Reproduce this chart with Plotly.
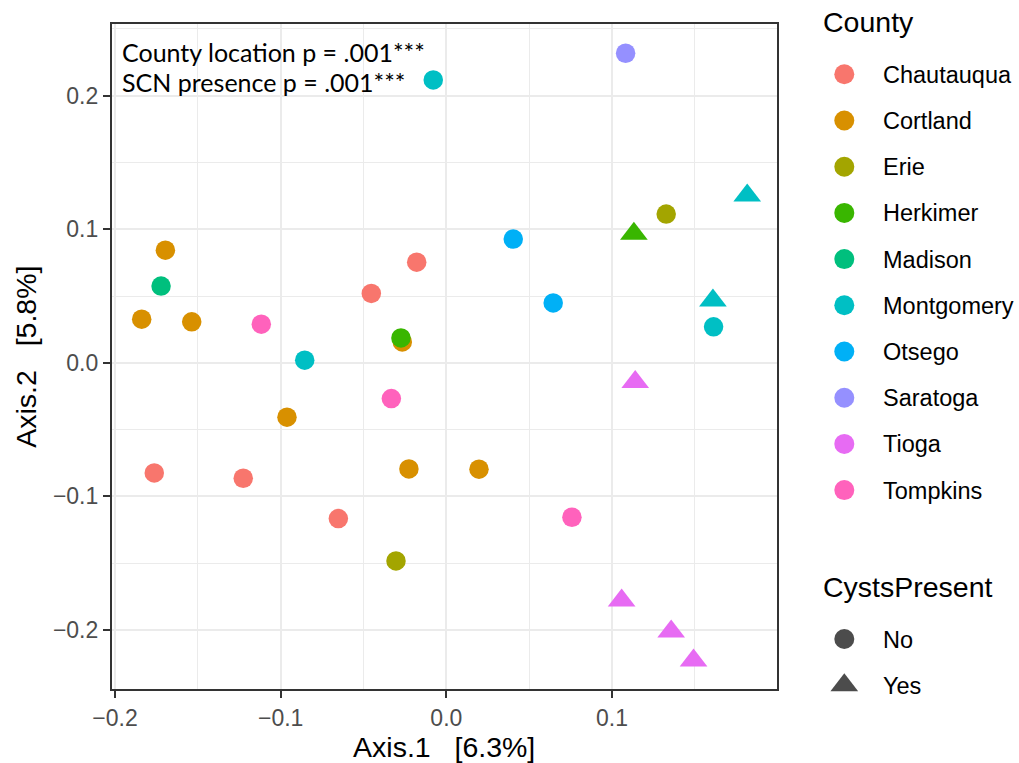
import plotly.graph_objects as go

W, H = 1019, 763

counties = ["Chautauqua", "Cortland", "Erie", "Herkimer", "Madison",
            "Montgomery", "Otsego", "Saratoga", "Tioga", "Tompkins"]
colors = ["#F8766D", "#D89000", "#A3A500", "#39B600", "#00BF7D",
          "#00BFC4", "#00B0F6", "#9590FF", "#E76BF3", "#FF62BC"]
cyst_levels = ["No", "Yes"]

# sample ordination scores (Axis.1, Axis.2), county, cysts present
axis1 = [-0.0453, -0.0179, -0.1763, -0.1226, -0.0652,
         -0.1696, -0.1839, -0.1537, -0.0266, -0.0962, -0.0226, 0.0197,
         0.1327, -0.0304,
         -0.0274, 0.1132,
         -0.1722,
         -0.0079, -0.0855, 0.1613, 0.1816, 0.1609,
         0.0404, 0.0645,
         0.1082,
         0.1140, 0.1058, 0.1357, 0.1492,
         -0.1117, -0.0332, 0.0758]
axis2 = [0.0520, 0.0754, -0.0824, -0.0864, -0.1166,
         0.0844, 0.0327, 0.0307, 0.0157, -0.0407, -0.0794, -0.0796,
         0.1114, -0.1483,
         0.0187, 0.0966,
         0.0575,
         0.2118, 0.0020, 0.0270, 0.1253, 0.0466,
         0.0927, 0.0449,
         0.2318,
         -0.0144, -0.1780, -0.2012, -0.2228,
         0.0290, -0.0267, -0.1156]
county = (["Chautauqua"] * 5 + ["Cortland"] * 7 + ["Erie"] * 2 +
          ["Herkimer"] * 2 + ["Madison"] + ["Montgomery"] * 5 +
          ["Otsego"] * 2 + ["Saratoga"] + ["Tioga"] * 4 + ["Tompkins"] * 3)
cysts = (["No"] * 5 + ["No"] * 7 + ["No"] * 2 +
         ["No", "Yes"] + ["No"] + ["No", "No", "No", "Yes", "Yes"] +
         ["No"] * 2 + ["No"] + ["Yes"] * 4 + ["No"] * 3)

x_ticks = [-0.2, -0.1, 0.0, 0.1]
x_ticklabels = ["\u22120.2", "\u22120.1", "0.0", "0.1"]
y_ticks = [-0.2, -0.1, 0.0, 0.1, 0.2]
y_ticklabels = ["\u22120.2", "\u22120.1", "0.0", "0.1", "0.2"]

symbol_of = {"No": "circle", "Yes": "triangle-up"}
size_of = {"No": 19.5, "Yes": 24}

# panel in pixels
PL, PR, PT, PB = 111.7, 776.7, 24.0, 689.3

def px_x(p):
    return p / W

def px_y(p):
    return 1 - p / H

fig = go.Figure()

for c, col in zip(counties, colors):
    for lev in cyst_levels:
        xs = [a for a, cc, cy in zip(axis1, county, cysts) if cc == c and cy == lev]
        ys = [b for b, cc, cy in zip(axis2, county, cysts) if cc == c and cy == lev]
        if not xs:
            continue
        fig.add_trace(go.Scatter(
            x=xs, y=ys, mode="markers", showlegend=False,
            marker=dict(color=col, size=size_of[lev], symbol=symbol_of[lev],
                        line=dict(width=0)),
            xaxis="x", yaxis="y", hoverinfo="skip"))

# legend drawn on a hidden pixel-space axis
LEG_X_MARK = 844.3
LEG_X_TEXT = 880.5
LEG_Y0 = 74.3
LEG_STEP = 46.2
leg_y = [LEG_Y0 + i * LEG_STEP for i in range(len(counties))]
fig.add_trace(go.Scatter(
    x=[LEG_X_MARK] * len(counties), y=leg_y, mode="markers", showlegend=False,
    marker=dict(color=colors, size=20, symbol="circle", line=dict(width=0)),
    xaxis="x2", yaxis="y2", hoverinfo="skip"))
CY0 = 639.0
cy_y = [CY0 + i * LEG_STEP for i in range(len(cyst_levels))]
fig.add_trace(go.Scatter(
    x=[LEG_X_MARK] * len(cyst_levels), y=cy_y, mode="markers", showlegend=False,
    marker=dict(color="#000000", size=[20, 24],
                symbol=[symbol_of[l] for l in cyst_levels], line=dict(width=0)),
    xaxis="x2", yaxis="y2", hoverinfo="skip"))

annotations = []
leg_font = dict(family="Liberation Sans, Arial, sans-serif", size=23.5, color="black")
title_font = dict(family="Liberation Sans, Arial, sans-serif", size=28.5, color="black")
annotations.append(dict(x=px_x(820.5), y=px_y(22.2), xref="paper", yref="paper",
                        text="County", showarrow=False, xanchor="left",
                        yanchor="middle", font=title_font))
for c, yy in zip(counties, leg_y):
    annotations.append(dict(x=px_x(LEG_X_TEXT), y=px_y(yy + 0.5), xref="paper", yref="paper",
                            text=c, showarrow=False, xanchor="left",
                            yanchor="middle", font=leg_font))
annotations.append(dict(x=px_x(820.5), y=px_y(587.3), xref="paper", yref="paper",
                        text="CystsPresent", showarrow=False, xanchor="left",
                        yanchor="middle", font=title_font))
for lev, yy in zip(cyst_levels, cy_y):
    annotations.append(dict(x=px_x(LEG_X_TEXT), y=px_y(yy + 0.5), xref="paper", yref="paper",
                            text=lev, showarrow=False, xanchor="left",
                            yanchor="middle", font=leg_font))

stat_font = dict(family="Lato, sans-serif", size=25, color="black")
annotations.append(dict(x=px_x(120), y=px_y(51.5), xref="paper", yref="paper",
                        text="County location p = .001***", showarrow=False,
                        xanchor="left", yanchor="middle", font=stat_font))
annotations.append(dict(x=px_x(120), y=px_y(82.3), xref="paper", yref="paper",
                        text="SCN presence p = .001***", showarrow=False,
                        xanchor="left", yanchor="middle", font=stat_font))

tick_font = dict(family="Liberation Sans, Arial, sans-serif", size=23, color="#4D4D4D")
grid = "#EBEBEB"

fig.update_layout(
    width=W, height=H,
    margin=dict(l=0, r=0, t=0, b=0),
    paper_bgcolor="white", plot_bgcolor="white",
    annotations=annotations,
    xaxis=dict(domain=[px_x(PL), px_x(PR)], range=[-0.202, 0.1994],
               tickvals=x_ticks, ticktext=x_ticklabels, tickfont=tick_font,
               ticks="outside", ticklen=7, tickwidth=1.6, tickcolor="#333333",
               showgrid=True, gridcolor=grid, gridwidth=2,
               minor=dict(dtick=0.05, tick0=0, showgrid=True, gridcolor=grid,
                          gridwidth=1, ticks=""),
               zeroline=False, showline=True, mirror=True,
               linecolor="#333333", linewidth=1.6,
               title=dict(text="Axis.1   [6.3%]", font=title_font, standoff=4),
               automargin=False, anchor="y"),
    yaxis=dict(domain=[px_y(PB), px_y(PT)], range=[-0.2444, 0.2537],
               tickvals=y_ticks, ticktext=y_ticklabels, tickfont=tick_font,
               ticks="outside", ticklen=7, tickwidth=1.6, tickcolor="#333333",
               showgrid=True, gridcolor=grid, gridwidth=2,
               minor=dict(dtick=0.05, tick0=0, showgrid=True, gridcolor=grid,
                          gridwidth=1, ticks=""),
               zeroline=False, showline=True, mirror=True,
               linecolor="#333333", linewidth=1.6,
               title=dict(text="Axis.2   [5.8%]", font=title_font, standoff=8),
               automargin=False, anchor="x"),
    xaxis2=dict(domain=[px_x(790), 1.0], range=[790, W], visible=False,
                fixedrange=True, anchor="y2"),
    yaxis2=dict(domain=[0.0, 1.0], range=[H, 0], visible=False,
                fixedrange=True, anchor="x2"),
)

fig.write_html("out.html")
